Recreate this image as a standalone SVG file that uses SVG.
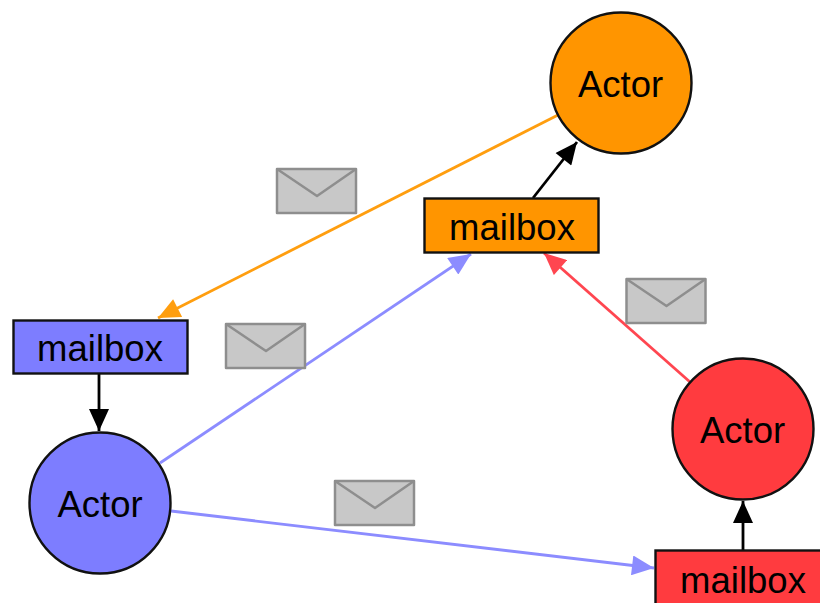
<svg xmlns="http://www.w3.org/2000/svg" width="820" height="603" viewBox="0 0 820 603">
<style>
text{font-family:"Liberation Sans",Arial,sans-serif;font-size:36.5px;fill:#000;text-anchor:middle}
.n{stroke:#111;stroke-width:2.4}
.e{fill:#c8c8c8;stroke:#8e8e8e;stroke-width:2.5;stroke-linejoin:round}
.f{fill:none;stroke:#8e8e8e;stroke-width:2.5;stroke-linejoin:round}
.c{fill:none;stroke-width:2.8}
</style>
<defs>
<marker id="ab" markerUnits="userSpaceOnUse" markerWidth="23" markerHeight="20" refX="22" refY="10" orient="auto" viewBox="0 0 22 20"><path d="M0 0L22 10L0 20Z" fill="#000"/></marker>
<marker id="ao" markerUnits="userSpaceOnUse" markerWidth="23" markerHeight="20" refX="22" refY="10" orient="auto" viewBox="0 0 22 20"><path d="M0 0L22 10L0 20Z" fill="#ff9e0f"/></marker>
<marker id="ap" markerUnits="userSpaceOnUse" markerWidth="23" markerHeight="20" refX="22" refY="10" orient="auto" viewBox="0 0 22 20"><path d="M0 0L22 10L0 20Z" fill="#8c8cff"/></marker>
<marker id="ar" markerUnits="userSpaceOnUse" markerWidth="23" markerHeight="20" refX="22" refY="10" orient="auto" viewBox="0 0 22 20"><path d="M0 0L22 10L0 20Z" fill="#ff4650"/></marker>
<g id="env"><rect class="e" x="0" y="0" width="79" height="44"/><path class="f" d="M0 0L40 27L79 0"/></g>
</defs>
<g id="connectors">
<path class="c" stroke="#ff9e0f" d="M558 115L158 318" marker-end="url(#ao)"/>
<path class="c" stroke="#8c8cff" d="M160 463L471 254" marker-end="url(#ap)"/>
<path class="c" stroke="#ff4650" d="M690 382L544 253" marker-end="url(#ar)"/>
<path class="c" stroke="#8c8cff" d="M171 511L654 568" marker-end="url(#ap)"/>
<path class="c" stroke="#000" d="M533 198L577 142" marker-end="url(#ab)"/>
<path class="c" stroke="#000" d="M99 374V431" marker-end="url(#ab)"/>
<path class="c" stroke="#000" d="M743 550V501" marker-end="url(#ab)"/>
</g>
<g id="actor-orange"><circle class="n" cx="621" cy="83" r="70.5" fill="#ff9500"/><text x="620.500" y="97">Actor</text></g>
<g id="mailbox-orange"><rect class="n" x="424.500" y="198.500" width="174" height="54" fill="#ff9500"/><text x="512" y="240">mailbox</text></g>
<g id="mailbox-blue"><rect class="n" x="13.500" y="320.500" width="174" height="53" fill="#7d7dff"/><text x="100" y="361">mailbox</text></g>
<g id="actor-blue"><circle class="n" cx="100" cy="503" r="70.500" fill="#7d7dff"/><text x="100" y="517">Actor</text></g>
<g id="actor-red"><circle class="n" cx="743" cy="429" r="70.500" fill="#ff3b3f"/><text x="742.500" y="443">Actor</text></g>
<g id="mailbox-red"><rect class="n" x="655.500" y="550.500" width="174" height="60" fill="#ff3b3f"/><text x="743" y="593">mailbox</text></g>
<g id="envelope-1"><use href="#env" x="277" y="169"/></g>
<g id="envelope-2"><use href="#env" x="226" y="324"/></g>
<g id="envelope-3"><use href="#env" x="626.500" y="279"/></g>
<g id="envelope-4"><use href="#env" x="335" y="481"/></g>
</svg>
